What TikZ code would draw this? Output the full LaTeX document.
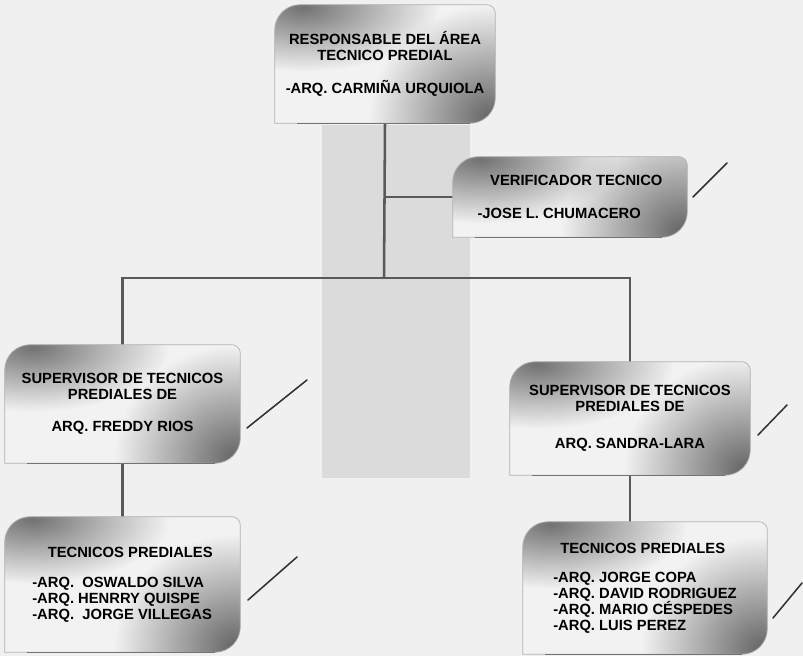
\documentclass[tikz,border=0pt]{standalone}
\usepackage{fontspec}
\setmainfont{Liberation Sans}
\usetikzlibrary{backgrounds,fadings}

\tikzfading[name=blob, inner color=transparent!0, outer color=transparent!100]

% outline of a unit box: round top left and bottom right corners
\newcommand\unitpath[1]{([yshift=-18pt]#1.north west) arc[start angle=180, end angle=90, radius=18pt]
	-- ([xshift=-6pt]#1.north east) arc[start angle=90, end angle=0, radius=6pt]
	-- ([yshift=18pt]#1.south east) arc[start angle=0, end angle=-90, radius=18pt]
	-- (#1.south west) -- cycle}

\tikzset{
  unit/.style={font=\fontsize{10.5}{11.4}\selectfont\bfseries, inner sep=0pt},
  conn/.style={line width=1.8pt, black!65},
  pen/.style={line width=1.1pt, black!80, line cap=round}
}

\begin{document}
\begin{tikzpicture}[x=0.025cm, y=0.025cm]
				% Page
				\useasboundingbox (0,0) rectangle (803,-656);
				% Units
				\node[unit, align=center, minimum width=5.5cm, minimum height=2.95cm] (resp) at (385,-64)
					{RESPONSABLE DEL ÁREA\\TECNICO PREDIAL\\[12pt]-ARQ. CARMIÑA URQUIOLA};
				\node[unit, align=left, minimum width=5.85cm, minimum height=2cm] (verif) at (570,-197)
					{\hspace*{9pt}VERIFICADOR TECNICO\\[12pt]-JOSE L. CHUMACERO};
				\node[unit, align=center, minimum width=5.875cm, minimum height=2.95cm] (supA) at (122.5,-404)
					{SUPERVISOR DE TECNICOS\\PREDIALES DE\\[11pt]ARQ. FREDDY RIOS};
				\node[unit, align=left, minimum width=5.875cm, minimum height=3.375cm] (tecA) at (122.5,-584.5)
					{\hspace*{11pt}TECNICOS PREDIALES\\[10pt]-ARQ.\ \ OSWALDO SILVA\\-ARQ. HENRRY QUISPE\\-ARQ.\ \ JORGE VILLEGAS};
				\node[unit, align=center, minimum width=6cm, minimum height=2.825cm] (supB) at (630,-418.5)
					{SUPERVISOR DE TECNICOS\\PREDIALES DE\\[15pt]ARQ. SANDRA-LARA};
				\node[unit, align=left, minimum width=6.1cm, minimum height=3.3cm] (tecB) at (645,-588)
					{\hspace*{5pt}TECNICOS PREDIALES\\[9pt]-ARQ. JORGE COPA\\-ARQ. DAVID RODRIGUEZ\\-ARQ. MARIO CÉSPEDES\\-ARQ. LUIS PEREZ};
				\coordinate (hub) at (384,-278);
				\begin{scope}[on background layer]
					% Paper and band
					\fill[black!6] (0,0) rectangle (803,-656);
					\fill[black!14] (322,-125) rectangle (470,-478);
					% Connectors
					\draw[conn] (resp.south) -- (hub);
					\draw[conn] (resp.south |- verif.west) -- (verif.west);
					\draw[conn] (supA.north) |- (hub) -| (supB.north);
					\draw[conn] (supA.south) -- (supA.south |- tecA.north);
					\draw[conn] (supB.south) -- (supB.south |- tecB.north);
					% Boxes
					\foreach \n in {resp,verif,supA,tecA,supB,tecB} {
						\begin{scope}
							\clip \unitpath{\n};
							\fill[black!5] \unitpath{\n};
							\fill[black!55, path fading=blob] ([xshift=20pt,yshift=-2pt]\n.north west) ellipse (3.4cm and 1.6cm);
							\fill[black!60, path fading=blob] ([xshift=-4pt,yshift=4pt]\n.south east) ellipse (3cm and 2.8cm);
						\end{scope}
						\draw[black!30, line width=0.5pt] \unitpath{\n};
						\draw[black!55, line width=0.8pt] ([xshift=16pt]\n.south west) -- ([xshift=-18pt]\n.south east);
					}
				\end{scope}
				% Pen ticks
				\foreach \xa/\ya/\xb/\yb in {727/163/693/197, 307/380/247/428, 297/557/248/600, 787/405/758/435, 802/583/773/618}
					\draw[pen] (\xa,-\ya) -- (\xb,-\yb);
\end{tikzpicture}
\end{document}
